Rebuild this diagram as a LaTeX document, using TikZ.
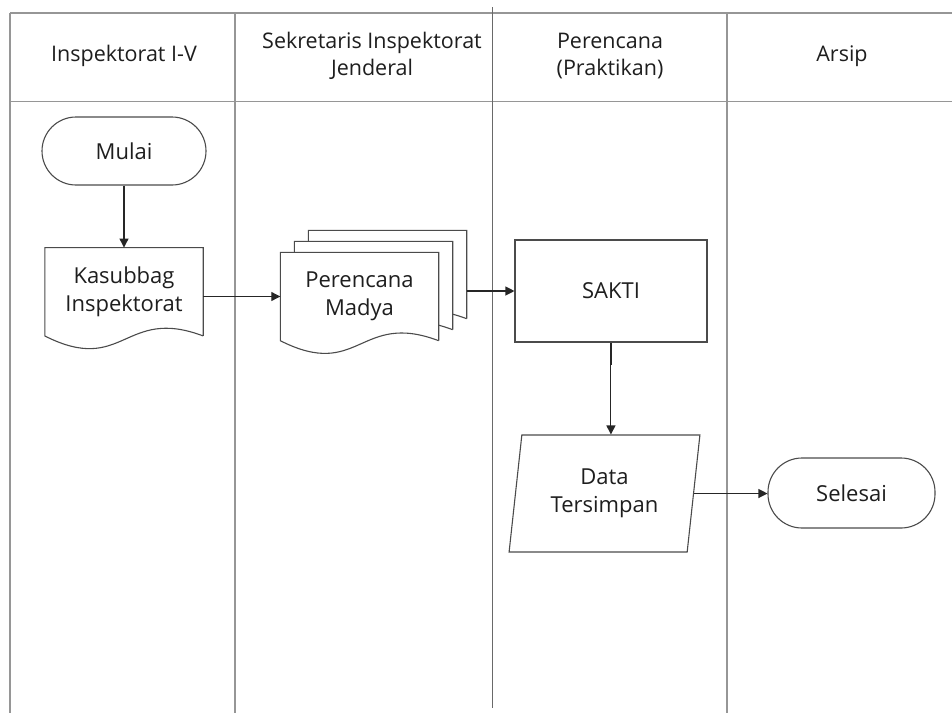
\documentclass[tikz,border=0pt]{standalone}
\usepackage{fontspec}
\setmainfont{Open Sans}
\usepackage{tikz}
\usetikzlibrary{
  shapes.geometric,
  arrows.meta,
  positioning, calc,
  backgrounds
}
\definecolor{laneGray}{RGB}{150,150,150}
\definecolor{laneDark}{RGB}{105,105,105}
\definecolor{edgeGray}{RGB}{75,75,75}
\definecolor{txtDark}{RGB}{30,30,30}
\tikzset{
  lanetext/.style={align=center,font=\fontsize{21.5}{27}\selectfont,text=txtDark},
  lanebar/.style={draw=laneGray,line width=1.6pt},
  basebox/.style={align=center,font=\fontsize{22}{28}\selectfont,text=txtDark},
  termnode/.style={basebox,rectangle,rounded corners=34pt,draw=edgeGray,line width=1.1pt,minimum width=164pt,minimum height=68pt},
  docnode/.style={basebox,rectangle,minimum width=158pt,minimum height=88pt},
  procnode/.style={basebox,rectangle,draw=edgeGray,line width=1.1pt,minimum width=192pt,minimum height=102pt},
  ionode/.style={basebox,trapezium,trapezium left angle=81,trapezium right angle=99,trapezium stretches=true,
                 draw=edgeGray,line width=1.1pt,minimum width=191pt,minimum height=117pt},
  docline/.style={draw=edgeGray,fill=white,line width=1.1pt},
  arr/.style={-{Triangle[length=9pt,width=9pt]},line width=1.1pt,color=black!85}
}
% outline of a document symbol round a plain node
\newcommand{\docshape}[1]{%
  \path[docline] (#1.south east) -- (#1.north east) -- (#1.north west) -- (#1.south west)
    .. controls ($(#1.south)+(0,40)$) and ($(#1.south)+(0,-30)$) .. (#1.south east);}

\begin{document}
\begin{tikzpicture}[x=1pt,y=-1pt]
  \useasboundingbox (0,0) rectangle (952,713);

  % swimlanes
  \draw[lanebar] (10,12.7) -- (952,12.7);
  \draw[lanebar] (10,101.5) -- (952,101.5);
  \foreach \x in {10,235,727}
    \draw[lanebar] (\x,12.7) -- (\x,713);
  \draw[draw=laneDark,line width=1.3pt] (492.7,7) -- (492.7,708);

  \node[lanetext] (h1) at (124,56) {Inspektorat I-V};
  \node[lanetext] (h2) at (372,56) {Sekretaris Inspektorat\\Jenderal};
  \node[lanetext] (h3) at (610,56) {Perencana\\(Praktikan)};
  \node[lanetext] (h4) at (842,56) {Arsip};

  % flow
  \node[termnode] (mulai) at (124,151) {Mulai};
  \node[docnode,below=62pt of mulai] (kasub) {Kasubbag\\Inspektorat};
  \node[docnode] (pm) at (359.5,296.5) {Perencana\\Madya};
  \node[docnode] (pm2) at ($(pm)+(14,-11)$) {};
  \node[docnode] (pm3) at ($(pm)+(28,-22)$) {};
  \node[procnode] (sakti) at (611,291) {SAKTI};
  \node[ionode] (data) at (604.5,493.5) {Data\\Tersimpan};
  \node[termnode,minimum width=167pt,minimum height=70pt] (selesai) at (851.5,493) {Selesai};

  \begin{scope}[on background layer]
    \docshape{kasub}
    \docshape{pm3}
    \docshape{pm2}
    \docshape{pm}
  \end{scope}

  \coordinate (datatop) at ($(data.top left corner)!0.5!(data.top right corner)$);

  \draw[arr] (mulai) -- (kasub);
  \draw[arr] (kasub.east |- pm.west) -- (pm.west);
  \draw[arr] (pm3.east |- sakti.west) -- (sakti.west);
  \draw[arr] (sakti.south) -- ++(0,22) -| (datatop);
  \draw[arr] (data.east) -- (data.east -| selesai.west);
\end{tikzpicture}
\end{document}
